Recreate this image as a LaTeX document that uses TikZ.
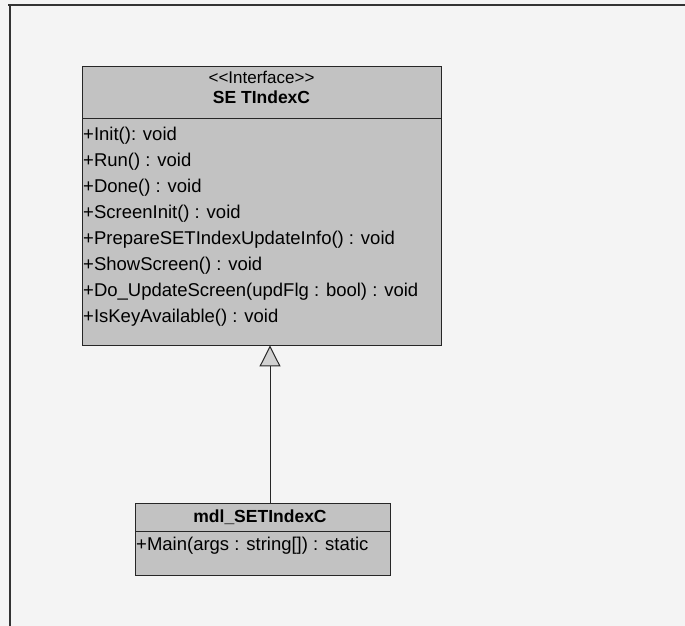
\documentclass[tikz,border=0pt]{standalone}
\usepackage{fontspec}
\setmainfont{Liberation Sans}
\usetikzlibrary{positioning, arrows.meta}
\definecolor{boxgray}{HTML}{C2C2C2}
\definecolor{pagegray}{HTML}{F4F4F4}

\begin{document}
\begin{tikzpicture}[x=1pt, y=-1pt, >=Latex,
    classbox/.style={draw=black!85, fill=boxgray, line width=0.9pt, inner sep=0pt},
    member/.style={anchor=west, inner sep=0pt, font=\fontsize{18.5}{20}\selectfont},
    title/.style={inner sep=0pt, font=\fontsize{17}{19}\selectfont},
    cname/.style={inner sep=0pt, font=\fontsize{17.5}{19}\selectfont\bfseries}]

    % page and frame
    \fill[pagegray] (0,0) rectangle (685,626);
    \useasboundingbox (0,0) rectangle (685,626);
    \draw[black!80, line width=1.8pt] (8,5) -- (685,5);
    \draw[black!80, line width=1.8pt] (10,5) -- (10,626);

    % 1. Interface class
    \node (iface) [classbox, minimum width=359pt, minimum height=279pt] at (261.5,205.5) {};
    \coordinate (isep) at (82,118);
    \draw[black!85, line width=0.9pt] (isep) -- (isep -| iface.east);
    \node (stereo) [title] at (261.5,77) {{<}{<}Interface{>}{>}};
    \node (iname) [cname] at (261.5,97) {SE TIndexC};
    \foreach \t [count=\i] in {+Init(): void, +Run() : void, +Done() : void,
        +ScreenInit() : void, +PrepareSETIndexUpdateInfo() : void,
        +ShowScreen() : void, +Do\_UpdateScreen(updFlg : bool) : void,
        +IsKeyAvailable() : void}
        \node (op\i) [member] at (83,110+26*\i) {\t};

    % 2. Implementing class
    \node (mdl) [classbox, minimum width=255pt, minimum height=72pt] at (262.5,539) {};
    \coordinate (msep) at (135,531);
    \draw[black!85, line width=0.9pt] (msep) -- (msep -| mdl.east);
    \node (mname) [cname] at (260,517) {mdl\_SETIndexC};
    \node (mop) [member] at (136,546) {+Main(args : string[]) : static};

    % 3. Realization arrow
    \coordinate (gen) at (270,503);
    \draw[black!85, line width=1pt, -{Triangle[open, length=21pt, width=21pt, fill=black!18]}] (gen) -- (gen |- iface.south);

\end{tikzpicture}
\end{document}
